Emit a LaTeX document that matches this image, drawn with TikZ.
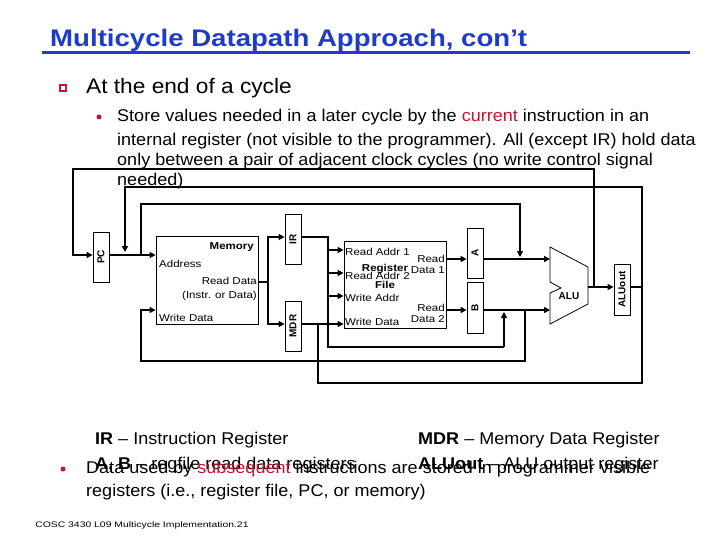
\documentclass[tikz,border=0pt]{standalone}
\usepackage{fontspec}
\setmainfont{Liberation Sans}
\usetikzlibrary{arrows.meta}
\definecolor{ttl}{RGB}{30,60,200}
\definecolor{rd}{RGB}{200,20,50}
\begin{document}
\begin{tikzpicture}[x=1pt,y=-1pt,
  wire/.style={line width=1.3pt},
  bus/.style={line width=2.6pt},
  arr/.style={-{Triangle[length=6pt,width=6pt]}},
  reg/.style={draw,line width=0.8pt,inner sep=0,minimum width=16pt},
  lbl/.style={font=\fontsize{10}{11}\selectfont,inner sep=0,xscale=1.15},
  bl/.style={font=\bfseries\fontsize{10}{10}\selectfont,rotate=90},
  txt/.style={anchor=west,inner sep=0,font=\fontsize{17}{19}\selectfont,xscale=1.06}]
\useasboundingbox (0,0) rectangle (720,540);
% title
\node[anchor=west,inner sep=0,text=ttl,font=\bfseries\fontsize{24}{26}\selectfont,xscale=1.15] (title) at (50,40) {Multicycle Datapath Approach, con’t};
\draw[ttl,line width=3pt] (42,53) -- (690,53);
\node[draw=rd,fill=white,minimum size=6pt,inner sep=0,line width=1.5pt] (b1) at (63,88) {};
\node[anchor=west,inner sep=0,font=\fontsize{21}{24}\selectfont,xscale=1.08] (t1) at (86,88) {At the end of a cycle};
\node[circle,fill=rd,minimum size=5pt,inner sep=0] (b2) at (99,117) {};
\node[txt] (l1) at (117,117) {Store values needed in a later cycle by the \textcolor{rd}{current} instruction in an};
\node[txt] (l2) at (117,141) {internal register (not visible to the programmer). All (except IR) hold data};
\node[txt] (l3) at (117,161) {only between a pair of adjacent clock cycles (no write control signal};
\node[txt] (l4) at (117,181) {needed)};
% boxes
\node[reg,minimum height=50pt] (pc) at (101,257) {};
\node[bl] (pcl) at (pc) {PC};
\node[draw,line width=0.8pt,minimum width=102pt,minimum height=88pt,inner sep=0] (mem) at (207,280) {};
\node[lbl,font=\bfseries\fontsize{10}{10}\selectfont,anchor=east] (meml) at (254,247) {Memory};
\node[lbl,anchor=west] (ma) at (159,264) {Address};
\node[lbl,anchor=east] (mrd) at (257,281) {Read Data};
\node[lbl,anchor=east] (mrd2) at (257,296) {(Instr. or Data)};
\node[lbl,anchor=west] (mwd) at (159,318) {Write Data};
\node[reg,minimum height=50pt] (ir) at (293,239) {};
\node[bl] (irl) at (ir) {IR};
\node[reg,minimum height=50pt] (mdr) at (293,326) {};
\node[bl] (mdrl) at (mdr) {MDR};
\node[draw,line width=0.8pt,minimum width=102pt,minimum height=87pt,inner sep=0] (rf) at (395,284.5) {};
\node[lbl,anchor=west] (r1) at (345,252) {Read Addr 1};
\node[lbl,anchor=west] (r2) at (345,276) {Read Addr 2};
\node[lbl,anchor=west] (r3) at (345,298) {Write Addr};
\node[lbl,anchor=west] (r4) at (345,322) {Write Data};
\node[lbl,font=\bfseries\fontsize{10}{10}\selectfont,align=center] (rfl) at (385,276) {Register\\[7pt]File};
\node[lbl,anchor=east,align=right] (rd1) at (445,264) {Read\\Data 1};
\node[lbl,anchor=east,align=right] (rd2) at (445,313) {Read\\Data 2};
\node[reg,minimum height=50pt] (ra) at (475,253) {};
\node[bl] (ral) at (ra) {A};
\node[reg,minimum height=51pt] (rb) at (475,307.5) {};
\node[bl] (rbl) at (rb) {B};
\draw[line width=0.8pt] (550,247) -- (588,267) -- (588,304) -- (550,324) -- (550,293) -- (561,288) -- (550,282) -- cycle;
\node[font=\bfseries\fontsize{10}{10}\selectfont] (alu) at (569,296) {ALU};
\coordinate (aluin1) at (550,259);
\coordinate (aluin2) at (550,310);
\coordinate (aluout) at (588,287);
\node[reg,minimum height=51pt] (ao) at (622,289.5) {};
\node[bl] (aol) at (ao) {ALUout};
% wires
\draw[wire,arr] (594,287) -- (594,169) -- (73,169) -- (73,255) -- (pc.west|-0,255);
\draw[wire,arr] (642,287) -- (642,187) -- (125,187) -- (125,252);
\draw[bus,arr] (pc.east|-0,255) -- (mem.west|-0,255);
\draw[wire,arr] (141,255) -- (141,204) -- (520,204) -- (520,257);
\draw[bus] (mem.east|-0,282) -- (268,282);
\draw[bus,arr] (268,282) -- (268,237) -- (ir.west|-0,237);
\draw[bus,arr] (268,282) -- (268,324) -- (mdr.west|-0,324);
\draw[wire] (ir.east|-0,237) -- (328,237) -- (328,347) -- (504,347);
\draw[wire,arr] (504,347) -- (504,312);
\draw[bus,arr] (328,250) -- (rf.west|-0,250);
\draw[bus,arr] (328,273) -- (rf.west|-0,273);
\draw[bus,arr] (328,296) -- (rf.west|-0,296);
\draw[wire,arr] (mdr.east|-0,324) -- (rf.west|-0,324);
\draw[wire] (318,324) -- (318,383) -- (642,383) -- (642,287) -- (ao.east|-0,287);
\draw[bus,arr] (rf.east|-0,259) -- (ra.west|-0,259);
\draw[bus,arr] (rf.east|-0,310) -- (rb.west|-0,310);
\draw[bus,arr] (ra.east|-0,259) -- (aluin1);
\draw[bus,arr] (rb.east|-0,310) -- (aluin2);
\draw[bus,arr] (aluout) -- (ao.west|-0,287);
\draw[wire,arr] (525,310) -- (525,361) -- (141,361) -- (141,310) -- (mem.west|-0,310);
% bottom text
\node[txt] (irt) at (95,440) {\textbf{IR} – Instruction Register};
\node[txt] (mdrt) at (418,440) {\textbf{MDR} – Memory Data Register};
\node[txt] (abt) at (95,465) {\textbf{A, B} – regfile read data registers};
\node[txt] (aot) at (418,465) {\textbf{ALUout} – ALU output register};
\node[circle,fill=rd,minimum size=5pt,inner sep=0] (b3) at (63,469) {};
\node[txt] (l5) at (86,469) {Data used by \textcolor{rd}{subsequent} instructions are stored in programmer visible};
\node[txt] (l6) at (86,492) {registers (i.e., register file, PC, or memory)};
\node[anchor=west,inner sep=0,font=\fontsize{8}{9}\selectfont,xscale=1.3] (foot) at (35,525) {COSC 3430 L09 Multicycle Implementation.21};
\end{tikzpicture}
\end{document}
